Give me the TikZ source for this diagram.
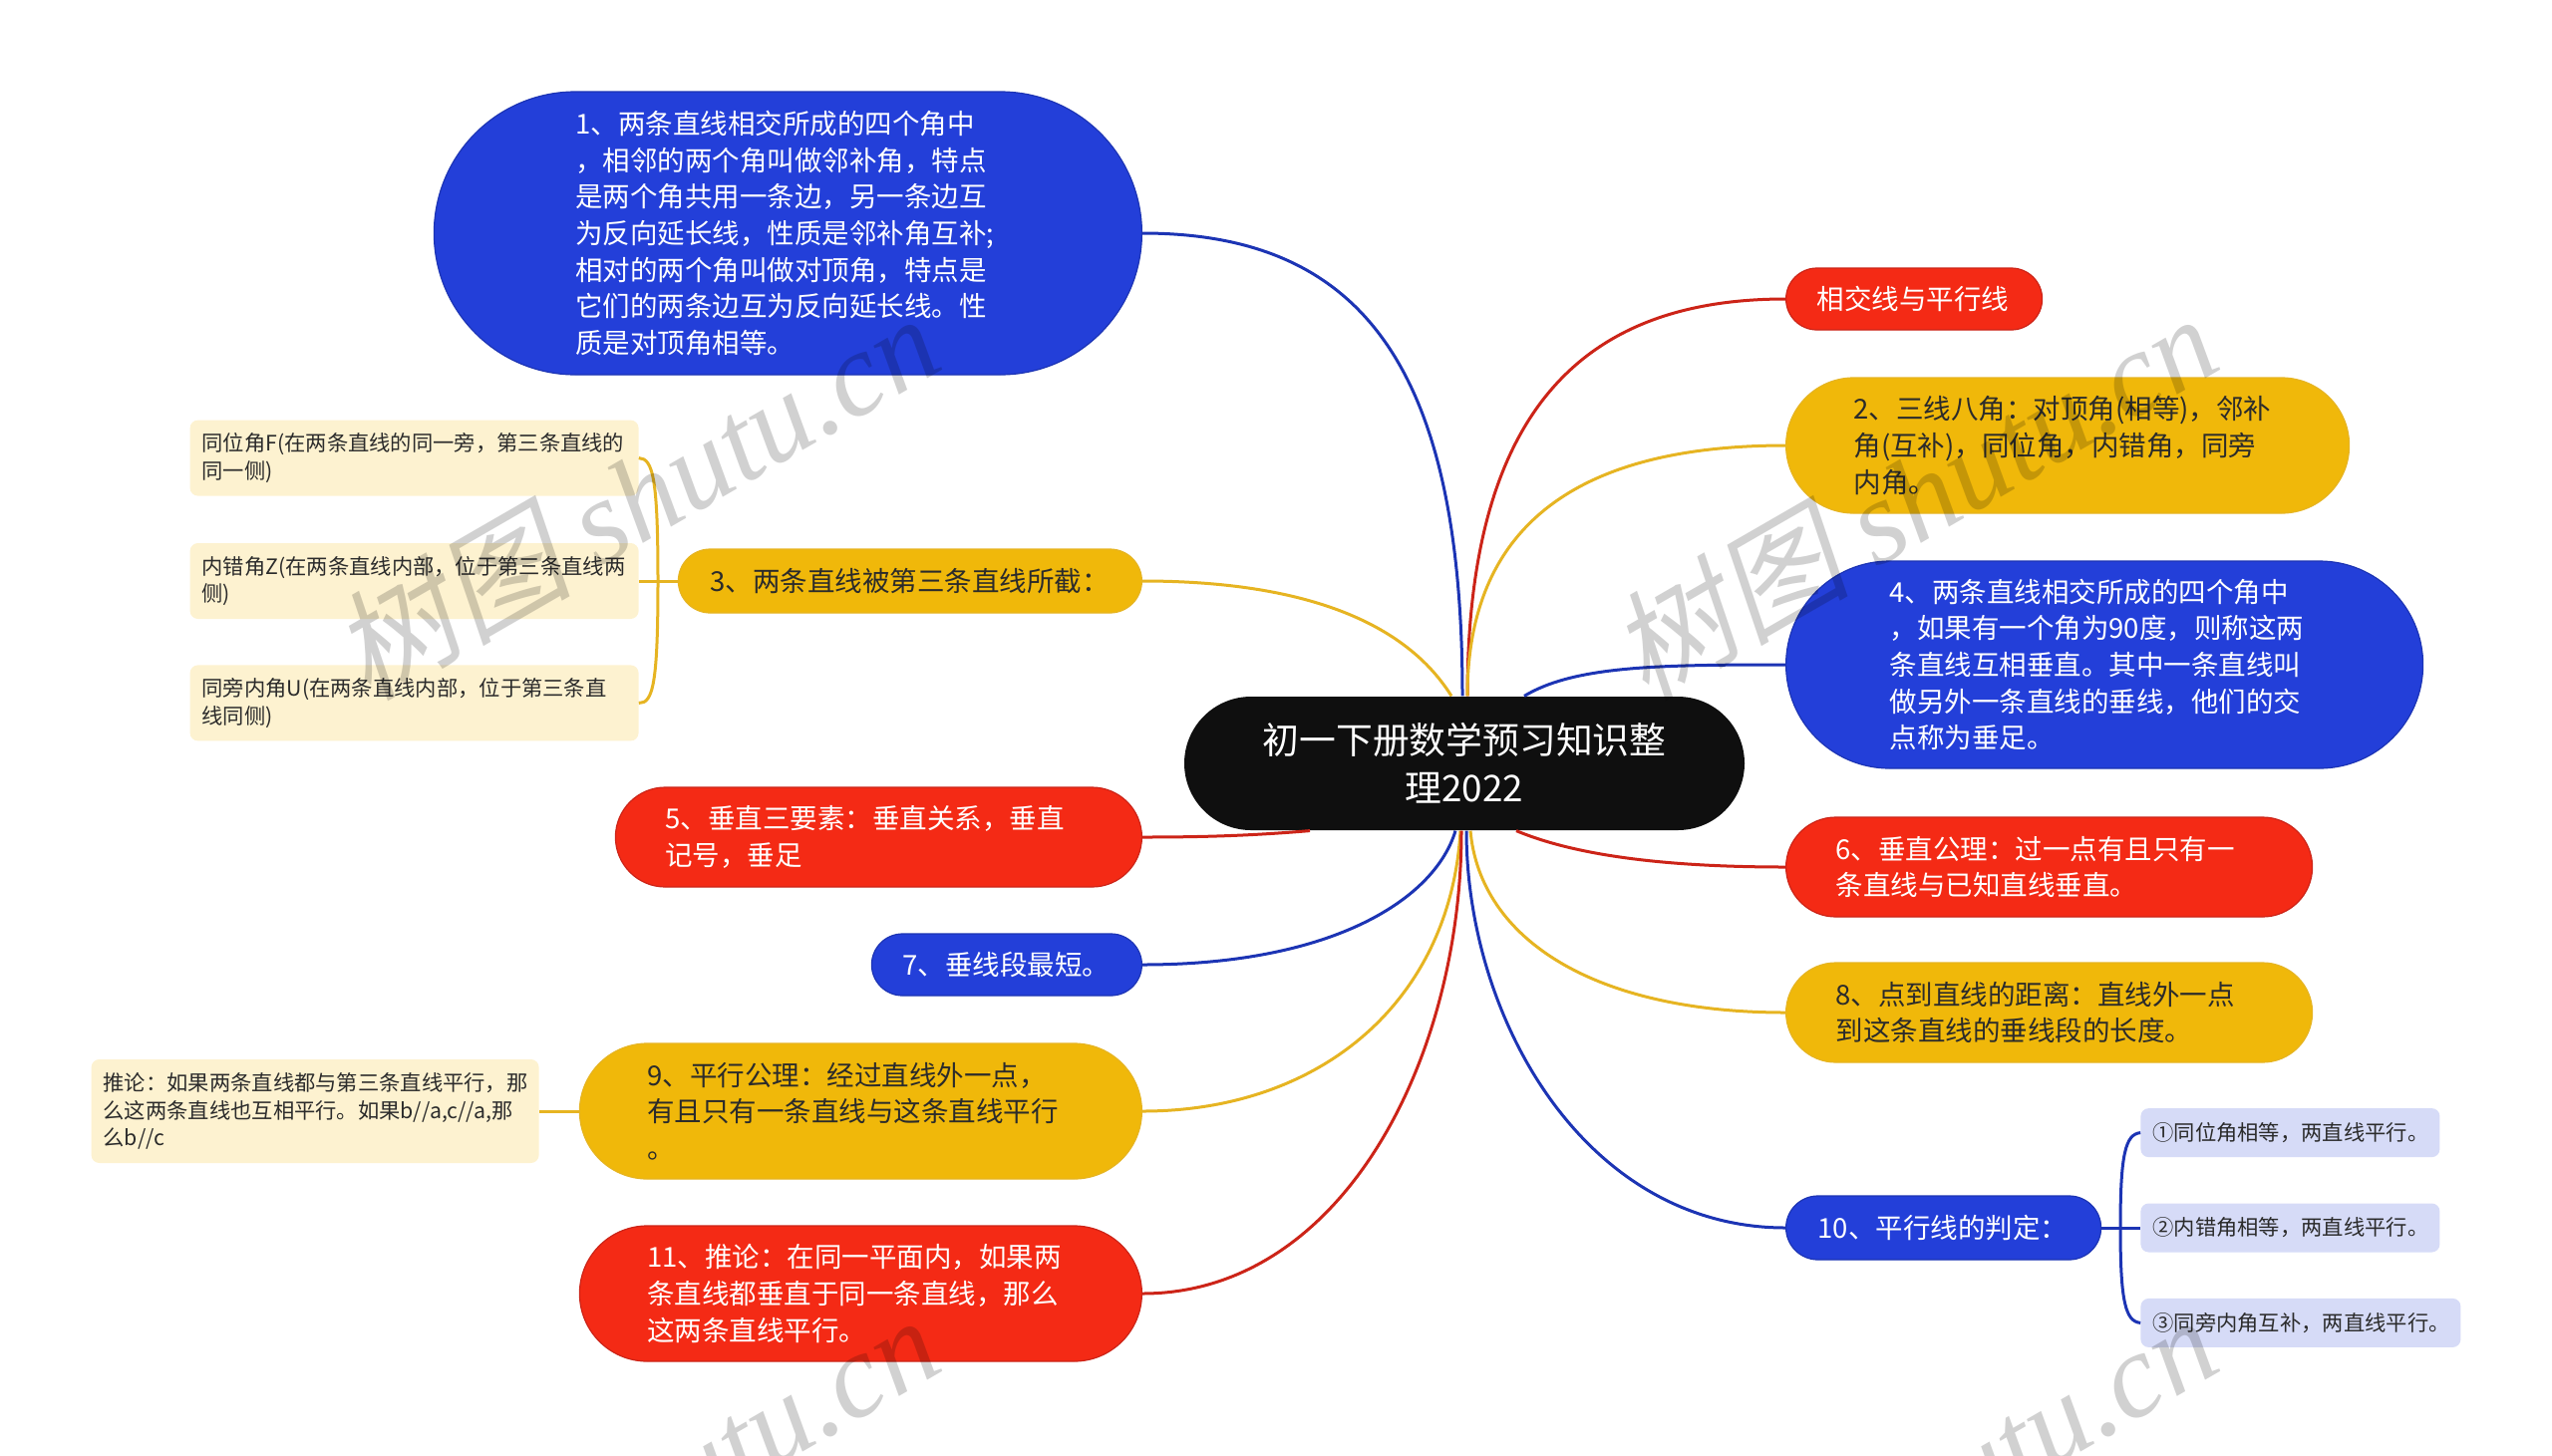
\documentclass[tikz,border=0pt]{standalone}
\usepackage{fontspec}
\setmainfont{Noto Sans CJK SC}
\newfontfamily\markcjk[FakeSlant=0.2]{Noto Sans CJK SC}
\newfontfamily\marklatin{Liberation Serif}
\usetikzlibrary{positioning}

\definecolor{pillblue}{HTML}{233FD9}
\definecolor{pillred}{HTML}{F42A15}
\definecolor{pillyellow}{HTML}{F0B80A}
\definecolor{edgeblue}{HTML}{1C34B4}
\definecolor{edgered}{HTML}{CC2418}
\definecolor{edgeyellow}{HTML}{E6B422}
\definecolor{softyellow}{HTML}{FDF2D0}
\definecolor{softblue}{HTML}{D6DBF7}
\definecolor{inkdark}{HTML}{2B2B2B}

\tikzset{
    pill/.style={rounded corners=#1 pt, minimum height=2*#1 pt, inner ysep=0pt, inner xsep=#1 pt, align=left,
        font=\fontsize{27.5}{36.6}\selectfont, line width=1.2pt},
    blue pill/.style={pill=#1, fill=pillblue, draw=edgeblue, text=white},
    red pill/.style={pill=#1, fill=pillred, draw=edgered, text=white},
    yellow pill/.style={pill=#1, fill=pillyellow, draw=edgeyellow, text=inkdark},
    note/.style={rounded corners=8pt, inner ysep=0pt, inner xsep=12pt, align=left, text width=#1 pt-24pt, text=inkdark,
        font=\fontsize{21.3}{27.5}\selectfont},
    blue link/.style={draw=edgeblue, line width=3pt},
    red link/.style={draw=edgered, line width=3pt},
    yellow link/.style={draw=edgeyellow, line width=3pt},
}

\begin{document}
\begin{tikzpicture}[x=1pt, y=-1pt]
    \useasboundingbox (0,0) rectangle (2560,1460);

    \node[pill=67, fill=black!94, text=white, text width=428pt, align=center, font=\fontsize{36.8}{48}\selectfont] (root) at (1469,766) {初一下册数学预习知识整\\理2022};

    % left column
    \node[blue pill=142, text width=426pt, anchor=east]   (n1)  at (1146,234)  {1、两条直线相交所成的四个角中\\，相邻的两个角叫做邻补角，特点\\是两个角共用一条边，另一条边互\\为反向延长线，性质是邻补角互补;\\相对的两个角叫做对顶角，特点是\\它们的两条边互为反向延长线。性\\质是对顶角相等。};
    \node[yellow pill=32, text width=401pt, anchor=east]  (n3)  at (1146,583)  {3、两条直线被第三条直线所截：};
    \node[red pill=50, text width=428pt, anchor=east]     (n5)  at (1146,840)  {5、垂直三要素：垂直关系，垂直\\记号，垂足};
    \node[blue pill=31, text width=209pt, anchor=east]    (n7)  at (1146,968)  {7、垂线段最短。};
    \node[yellow pill=68, text width=428pt, anchor=east]  (n9)  at (1146,1115) {9、平行公理：经过直线外一点，\\有且只有一条直线与这条直线平行\\。};
    \node[red pill=68, text width=428pt, anchor=east]     (n11) at (1146,1298) {11、推论：在同一平面内，如果两\\条直线都垂直于同一条直线，那么\\这两条直线平行。};

    % right column
    \node[red pill=31, text width=195pt, anchor=west]     (n0)  at (1791,300)  {相交线与平行线};
    \node[yellow pill=68, text width=429pt, anchor=west]  (n2)  at (1791,447)  {2、三线八角：对顶角(相等)，邻补\\角(互补)，同位角，内错角，同旁\\内角。};
    \node[blue pill=104, text width=431pt, anchor=west]   (n4)  at (1791,667)  {4、两条直线相交所成的四个角中\\，如果有一个角为90度，则称这两\\条直线互相垂直。其中一条直线叫\\做另外一条直线的垂线，他们的交\\点称为垂足。};
    \node[red pill=50, text width=428pt, anchor=west]     (n6)  at (1791,870)  {6、垂直公理：过一点有且只有一\\条直线与已知直线垂直。};
    \node[yellow pill=50, text width=428pt, anchor=west]  (n8)  at (1791,1016) {8、点到直线的距离：直线外一点\\到这条直线的垂线段的长度。};
    \node[blue pill=32, text width=252pt, anchor=west]    (n10) at (1791,1232) {10、平行线的判定：};

    % notes
    \node[note=450, fill=softyellow, minimum height=76pt, left=39pt of n3]    (b2) {内错角Z(在两条直线内部，位于第三条直线两\\侧)};
    \node[note=450, fill=softyellow, minimum height=76pt, above=47pt of b2]   (b1) {同位角F(在两条直线的同一旁，第三条直线的\\同一侧)};
    \node[note=450, fill=softyellow, minimum height=76pt, below=46pt of b2]   (b3) {同旁内角U(在两条直线内部，位于第三条直\\线同侧)};
    \node[note=449, fill=softyellow, minimum height=104pt, left=40pt of n9]   (b4) {推论：如果两条直线都与第三条直线平行，那\\么这两条直线也互相平行。如果b//a,c//a,那\\么b//c};
    \node[note=300, fill=softblue, minimum height=49pt, right=39pt of n10]    (s2) {②内错角相等，两直线平行。};
    \node[note=300, fill=softblue, minimum height=49pt, above=46pt of s2]     (s1) {①同位角相等，两直线平行。};
    \node[note=321, fill=softblue, minimum height=49pt, below=46pt of s2.south west, anchor=north west] (s3) {③同旁内角互补，两直线平行。};

    \draw[blue link]   (n1.east) .. controls +(220,0) and +(0,-330) .. ([xshift=-2pt]root.north);
    \draw[yellow link] (n3.east) .. controls +(150,0) and +(-50,-80) .. ([xshift=-13pt]root.north);
    \draw[red link]    (n5.east) .. controls +(60,0) and +(-60,5) .. ([xshift=-155pt]root.south);
    \draw[blue link]   (n7.east) .. controls +(194,0) and +(-20,67) .. ([xshift=-9pt]root.south);
    \draw[yellow link] (n9.east) .. controls +(180,0) and +(-10,170) .. ([xshift=-4pt]root.south);
    \draw[red link]    (n11.east) .. controls +(200,0) and +(0,230) .. ([xshift=-3pt]root.south);
    \draw[red link]    (n0.west) .. controls +(-200,0) and +(0,-290) .. ([xshift=3pt]root.north);
    \draw[yellow link] (n2.west) .. controls +(-210,0) and +(0,-170) .. ([xshift=3pt]root.north);
    \draw[blue link]   (n4.west) .. controls +(-130,0) and +(50,-30) .. ([xshift=60pt]root.north);
    \draw[red link]    (n6.west) .. controls +(-120,0) and +(60,25) .. ([xshift=52pt]root.south);
    \draw[yellow link] (n8.west) .. controls +(-190,0) and +(10,110) .. ([xshift=6pt]root.south);
    \draw[blue link]   (n10.west) .. controls +(-200,0) and +(0,190) .. ([xshift=2pt]root.south);

    \coordinate (bend3) at (660,583);
    \coordinate (bend10) at (2127,1232);
    \draw[yellow link] (n3.west) -- (b2.east);
    \draw[yellow link] (n9.west) -- (b4.east);
    \draw[blue link]   (n10.east) -- (s2.west);
    \draw[yellow link] (b1.east) .. controls (655,460) and (660,480) .. (bend3) .. controls (660,686) and (655,706) .. (b3.east);
    \draw[blue link]   (s1.west) .. controls (2132,1138) and (2127,1158) .. (bend10) .. controls (2127,1306) and (2132,1326) .. (s3.west);

    % watermark
    \begin{scope}
        \clip (0,0) rectangle (2560,1460);
        \foreach \mx/\my in {637/497, 1919/497, 637/1502, 1919/1502} {
            \node[rotate=30, text=black, opacity=0.18, font=\fontsize{120}{120}\selectfont] (mark \mx-\my) at (\mx,\my) {{\markcjk 树图} {\marklatin\itshape shutu.cn}};
        }
    \end{scope}
\end{tikzpicture}
\end{document}
